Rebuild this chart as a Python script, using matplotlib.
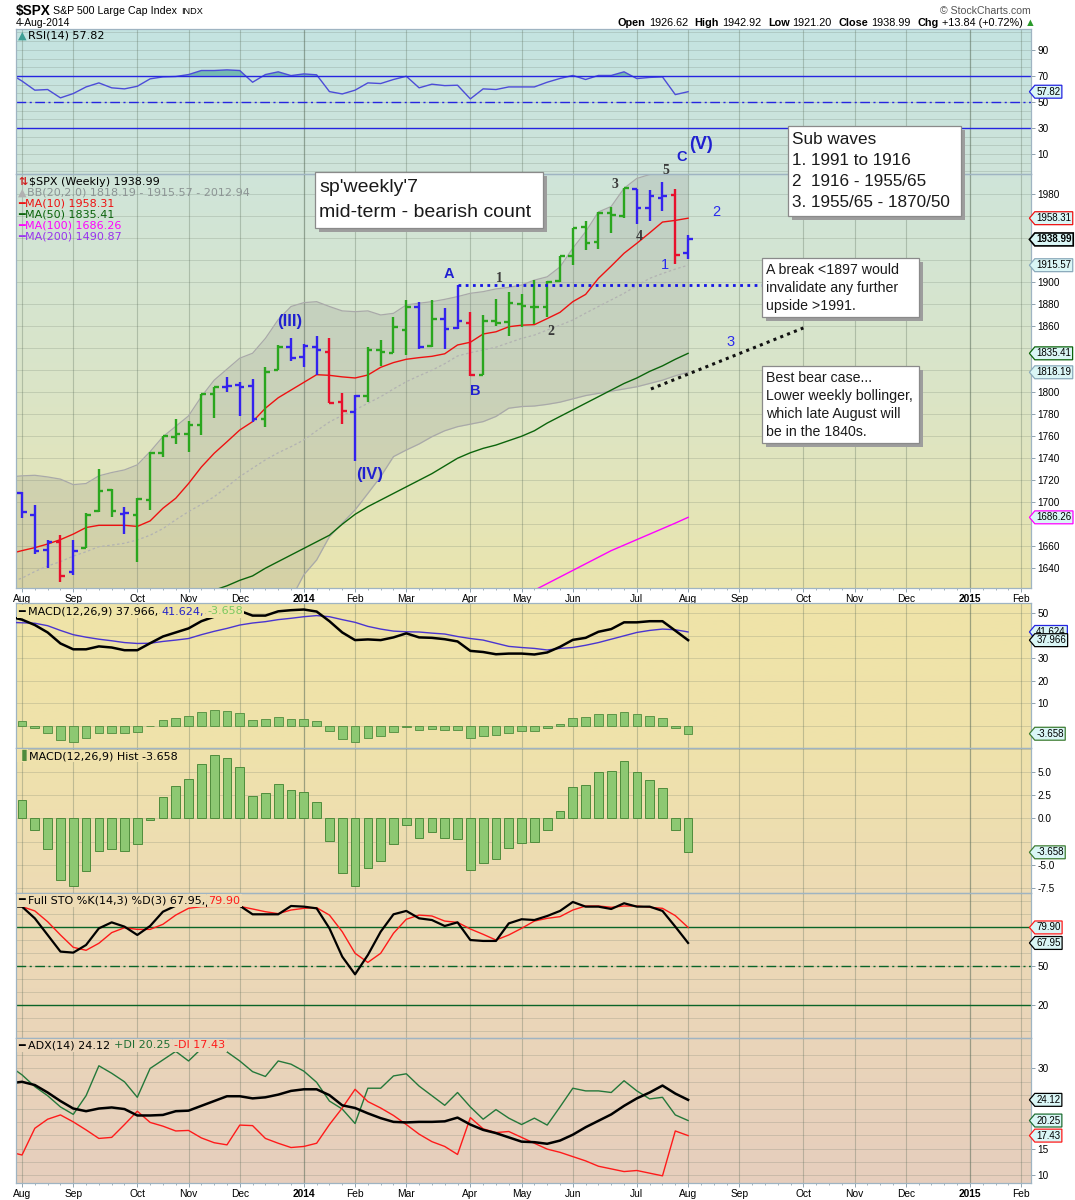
import numpy as np
import matplotlib
matplotlib.use("Agg")
import matplotlib.pyplot as plt
from matplotlib.colors import LinearSegmentedColormap
from matplotlib.patches import Rectangle
from matplotlib.path import Path

# weekly bars, index 0 = week of 5-Aug-2013, index 52 = week of 4-Aug-2014
weeks = np.arange(0, 53)
# indicator lines carry one extra point on the left so they reach the frame
weeks_ext = np.arange(-1, 53)

bar_open = np.array([1708, 1688.5, 1656.6, 1664, 1637, 1658, 1691.7, 1711.4, 1689, 1688,
                     1702, 1745, 1759, 1762, 1770, 1798, 1804.8, 1806.5, 1806, 1776,
                     1820, 1841, 1832, 1841, 1837, 1791, 1782, 1797, 1838, 1836,
                     1857, 1878, 1842, 1867, 1858, 1863, 1816, 1865, 1864, 1880,
                     1878, 1878, 1901, 1923.5, 1950, 1937, 1963, 1960.5, 1984.5, 1968,
                     1977, 1979, 1926.62])
bar_high = np.array([1709, 1697.5, 1665.7, 1670.3, 1665.7, 1690, 1730, 1712, 1696, 1703.6,
                     1745.5, 1759.8, 1775.4, 1774, 1798.5, 1804.8, 1813.6, 1809.6, 1811.8, 1823.3,
                     1843, 1849.4, 1843.6, 1851, 1849, 1799, 1797.5, 1841.5, 1847.5, 1868,
                     1884, 1882.4, 1884, 1876.4, 1897.3, 1873, 1870.3, 1885, 1891.5, 1889.4,
                     1902, 1901.3, 1924, 1949.4, 1955.6, 1963.9, 1968.2, 1985.6, 1984.9, 1984,
                     1991.4, 1984.9, 1942.92])
bar_low = np.array([1685.7, 1653, 1640, 1627.8, 1634, 1658, 1691, 1687, 1671, 1646,
                    1693, 1741.5, 1752.7, 1746, 1761, 1777, 1800.5, 1778.7, 1773.3, 1768,
                    1820, 1828.5, 1823.4, 1815.5, 1790, 1770.9, 1737.9, 1791.5, 1824, 1836,
                    1834, 1839, 1841, 1839.5, 1857.5, 1814.4, 1815.8, 1860, 1851, 1859.5,
                    1862, 1868, 1900.5, 1915.9, 1929.6, 1930, 1944.5, 1958.7, 1952.9, 1955.6,
                    1965.1, 1916.4, 1921.2])
bar_close = np.array([1691.4, 1655.8, 1663.5, 1633, 1655.2, 1688, 1709.9, 1691.8, 1690.5, 1703.2,
                      1744.5, 1759.8, 1761.6, 1770.6, 1798.2, 1804.8, 1805.8, 1805.1, 1775.3, 1818.3,
                      1841.4, 1831.4, 1842.4, 1838.7, 1790.3, 1782.6, 1797, 1838.6, 1836.3, 1859.5,
                      1878, 1841.1, 1866.5, 1857.6, 1865.1, 1815.7, 1864.9, 1863.4, 1881.1, 1878.5,
                      1877.9, 1900.5, 1923.6, 1949.4, 1936.2, 1962.9, 1961, 1985.4, 1967.6, 1978.2,
                      1978.3, 1925.2, 1938.99])
# g = green, b = blue, r = red bar
bar_color = np.array(list("bbbrbgggbg" "ggggggbbbg" "gbbbrrbggg" "gbgbbrgggg" "ggggggggbb" "brb"))

bb_upper = np.array([1723, 1724, 1724.5, 1723, 1721, 1716, 1717, 1724, 1727, 1729.4,
                     1734, 1746, 1759.6, 1769, 1778.5, 1796, 1811, 1821, 1831, 1835.5,
                     1849, 1866, 1878, 1881.5, 1882.4, 1878, 1874, 1873.3, 1874, 1870.3,
                     1871.8, 1879.4, 1881, 1882.4, 1884.5, 1887, 1890, 1891.5, 1894, 1895.4,
                     1897.5, 1902, 1905, 1914, 1931, 1946, 1964, 1969, 1985.5, 1994.5,
                     1998, 2004, 2009, 2012.94])
bb_mid = np.array([1627, 1631, 1637, 1642, 1646, 1651, 1655, 1659.6, 1661, 1662.7,
                   1665.7, 1670, 1676, 1684, 1691.5, 1698, 1705, 1714, 1723.3, 1731,
                   1738.5, 1745, 1750.5, 1756.6, 1765, 1773, 1779, 1784, 1790, 1796,
                   1803, 1809.6, 1815, 1820, 1826, 1833, 1836, 1838.5, 1841, 1845,
                   1849, 1852, 1856.6, 1861, 1865.7, 1872, 1878, 1884, 1890, 1897,
                   1903.6, 1908, 1912, 1915.57])
bb_lower = np.array([1531, 1538, 1549, 1561, 1571, 1586, 1593, 1595, 1595, 1596,
                     1597, 1594, 1592, 1599, 1604.5, 1600, 1599, 1607, 1612, 1615,
                     1610, 1605, 1612, 1634, 1647.5, 1668.7, 1681, 1693, 1708, 1723.3,
                     1741.5, 1747.5, 1753, 1759.6, 1765, 1768.7, 1771, 1773.3, 1778, 1785.5,
                     1787, 1787.5, 1789, 1791, 1794, 1797, 1799, 1801, 1803, 1805,
                     1808, 1811, 1815, 1818.19])
ma10 = np.array([1653, 1656, 1658.7, 1662, 1666, 1671, 1677, 1679, 1679, 1679,
                 1678, 1683, 1694.5, 1703.6, 1717, 1732, 1744.5, 1755, 1765.7, 1773.3,
                 1785.5, 1795, 1802, 1809, 1816, 1815.4, 1814, 1813, 1815.7, 1822.7,
                 1827, 1830, 1831.5, 1832.7, 1835, 1843, 1845.5, 1853, 1855, 1859.6,
                 1861, 1861.5, 1867, 1872.7, 1882.4, 1889, 1903.6, 1914.8, 1926.4, 1935.5,
                 1945, 1954.8, 1956.3, 1958.31])
ma50_weeks = np.arange(15, 53)
ma50 = np.array([1620, 1624, 1629, 1633, 1640, 1646, 1652, 1658, 1664, 1670,
                 1680, 1689, 1696, 1702, 1708, 1714, 1720, 1726, 1733, 1740,
                 1745, 1749, 1752, 1756, 1760, 1765, 1772, 1778, 1784, 1790,
                 1796, 1802, 1808, 1813, 1819, 1824, 1830, 1835.41])
ma100_weeks = np.arange(40, 53)
ma100 = np.array([1620, 1626, 1632, 1638, 1644, 1650, 1656, 1661, 1666, 1671, 1676, 1681, 1686.26])

rsi = np.array([72.0, 66.0, 59.0, 59.5, 53.1, 56.4, 61.5, 64.6, 60.8, 60.0,
                62.0, 67.7, 69.2, 69.5, 71.0, 74.1, 74.1, 74.6, 74.1, 65.1,
                71.0, 73.1, 70.2, 71.5, 70.8, 57.9, 56.1, 59.0, 64.6, 64.1,
                67.2, 69.7, 60.8, 63.6, 62.5, 62.8, 52.3, 60.0, 59.5, 61.5,
                61.5, 61.5, 65.1, 68.0, 70.3, 67.2, 70.3, 70.3, 73.1, 67.9,
                68.8, 69.2, 55.6, 57.82])
macd = np.array([48.5, 47.1, 44.7, 41.4, 36.5, 33.9, 33.9, 35.2, 34.7, 33.5,
                 33.5, 36.6, 39.6, 41.4, 43.2, 46.4, 48.4, 49.6, 51.0, 48.9,
                 48.9, 50.8, 51.3, 51.6, 50.7, 46.4, 41.4, 38.0, 38.3, 38.0,
                 39.2, 41.0, 39.2, 39.0, 38.4, 37.4, 33.2, 32.7, 31.7, 32.0,
                 32.0, 31.6, 32.5, 35.0, 38.1, 39.0, 41.7, 42.9, 45.9, 45.9,
                 46.4, 46.4, 42.2, 37.966])
macd_signal = np.array([45.9, 45.7, 45.5, 44.4, 42.3, 40.4, 39.3, 38.4, 37.7, 36.9,
                        36.5, 36.6, 37.4, 38.0, 38.7, 40.4, 41.9, 43.2, 44.7, 45.6,
                        46.2, 47.1, 47.7, 48.4, 48.9, 48.4, 47.1, 45.9, 44.1, 42.9,
                        42.0, 41.7, 41.6, 41.1, 40.7, 39.6, 38.7, 38.0, 36.6, 35.2,
                        34.7, 34.3, 33.6, 34.3, 34.7, 35.7, 36.9, 38.4, 39.9, 41.4,
                        42.3, 42.9, 42.6, 41.624])
macd_hist = np.array([2.0, -1.3, -3.3, -6.6, -7.3, -5.7, -3.5, -3.3, -3.5, -2.8,
                      -0.15, 2.3, 3.5, 4.3, 5.9, 6.8, 6.5, 5.6, 2.4, 2.7,
                      3.7, 3.1, 2.9, 1.8, -2.4, -5.9, -7.3, -5.4, -4.6, -2.8,
                      -0.7, -2.1, -1.5, -2.1, -2.2, -5.6, -4.8, -4.4, -3.2, -2.6,
                      -2.5, -1.2, 0.8, 3.4, 3.6, 5.0, 5.1, 6.2, 5.0, 4.2,
                      3.3, -1.3, -3.658])
sto_k = np.array([96.0, 95.9, 86.9, 74.1, 61.3, 60.5, 66.4, 79.2, 83.8, 80.5,
                  74.1, 81.0, 92.0, 96.6, 96.6, 96.6, 96.6, 96.6, 96.6, 90.0,
                  90.0, 90.0, 96.4, 95.9, 94.6, 79.2, 57.4, 43.8, 58.7, 76.6,
                  90.0, 92.6, 86.9, 85.6, 81.0, 83.8, 70.2, 69.5, 69.5, 83.0,
                  86.2, 85.6, 88.7, 92.6, 99.5, 95.9, 95.9, 94.1, 98.5, 95.9,
                  95.9, 92.6, 80.5, 67.95])
sto_d = np.array([97.0, 95.9, 92.6, 84.3, 74.1, 64.6, 62.3, 67.7, 75.9, 79.7,
                  78.4, 78.4, 82.3, 89.4, 94.6, 95.9, 96.1, 96.1, 96.1, 94.1,
                  92.0, 90.5, 93.3, 94.6, 95.1, 89.4, 76.6, 60.0, 53.0, 60.0,
                  75.4, 86.2, 89.4, 88.7, 84.8, 83.8, 78.7, 74.6, 70.2, 74.1,
                  79.2, 84.8, 86.9, 88.2, 93.3, 96.4, 96.4, 95.4, 96.4, 96.4,
                  95.4, 94.6, 89.0, 79.90])
adx = np.array([27.2, 27.5, 26.9, 25.5, 23.9, 22.5, 22.0, 22.5, 22.7, 22.4,
                21.2, 21.2, 21.3, 22.0, 22.1, 23.0, 23.9, 24.8, 24.8, 24.4,
                24.6, 25.1, 25.8, 26.1, 26.1, 25.0, 23.1, 22.6, 21.6, 20.7,
                20.0, 19.9, 20.0, 20.0, 20.1, 20.8, 19.5, 18.5, 17.9, 17.1,
                16.3, 16.2, 15.9, 16.5, 17.6, 19.0, 20.2, 21.4, 23.0, 24.4,
                25.5, 26.8, 25.3, 24.12])
plus_di = np.array([30.5, 28.8, 26.6, 24.9, 22.8, 21.4, 24.9, 30.5, 29.1, 27.5,
                    24.6, 30.0, 31.6, 33.2, 31.4, 33.7, 35.0, 33.1, 31.4, 29.4,
                    28.5, 31.4, 30.8, 29.5, 27.4, 23.9, 22.4, 19.7, 26.3, 26.3,
                    28.6, 29.0, 26.7, 24.9, 23.1, 25.5, 22.8, 20.5, 22.3, 20.7,
                    19.5, 20.7, 19.4, 22.8, 26.3, 25.8, 25.8, 25.5, 27.7, 25.8,
                    24.3, 24.6, 21.3, 20.25])
minus_di = np.array([14.4, 13.8, 18.8, 20.5, 21.3, 20.0, 18.5, 16.9, 17.1, 19.5,
                     22.0, 19.9, 19.2, 18.3, 18.4, 17.0, 16.1, 15.7, 19.4, 19.3,
                     16.9, 16.0, 15.2, 15.4, 16.0, 19.5, 22.6, 26.1, 23.8, 22.6,
                     21.2, 19.5, 17.7, 16.3, 15.4, 13.9, 20.8, 18.7, 18.0, 18.2,
                     17.1, 16.0, 14.9, 14.3, 13.5, 12.7, 11.7, 11.2, 10.7, 10.9,
                     10.4, 9.9, 18.3, 17.43])

month_weeks = [0, 4, 9, 13, 17, 22, 26, 30, 35, 39, 43, 48, 52, 56, 61, 65, 69, 74, 78]
month_labels = ["Aug", "Sep", "Oct", "Nov", "Dec", "2014", "Feb", "Mar", "Apr", "May", "Jun",
                "Jul", "Aug", "Sep", "Oct", "Nov", "Dec", "2015", "Feb"]

# hand drawn annotations: (text, week, price, kind)
wave_labels = [("(III)", 20.9, 1864, "major"), ("(IV)", 27.1, 1725, "major"),
               ("A", 33.3, 1907.5, "abc"), ("B", 35.4, 1801.5, "abc"), ("C", 51.5, 2014, "abc"),
               ("(V)", 53.0, 2025.7, "big"),
               ("1", 37.3, 1903.6, "minor"), ("2", 41.3, 1855, "minor"), ("3", 46.3, 1988.5, "minor"),
               ("4", 48.2, 1942, "minor"), ("5", 50.3, 2002, "minor"),
               ("1", 50.2, 1915.7, "sub"), ("2", 54.2, 1964, "sub"), ("3", 55.3, 1846, "sub")]
support_level = 1897.5
support_weeks = [34, 57.8]
bear_line_weeks = [49.1, 61.0]
bear_line_prices = [1803, 1858.5]

# ---------------------------------------------------------------------------
W, H = 1075, 1200
LEFT, RIGHT = 16, 1031
X_MIN, X_MAX = -0.47, 78.77
plt.rcParams["font.family"] = ["DejaVu Sans"]

GRID = (0.40, 0.45, 0.40, 0.22)
SPINE = "#9fb4c2"
BAR_COLORS = {"g": "#2aa61e", "b": "#3322ee", "r": "#e8102c"}
TAG_FILL = "#daf6f6"
SMALL_FONT = "Liberation Sans"

fig = plt.figure(figsize=(W / 100, H / 100), dpi=100)
fig.patch.set_facecolor("white")


def frac_box(top, bottom):
    return [LEFT / W, 1 - bottom / H, (RIGHT - LEFT) / W, (bottom - top) / H]


# background gradient, split around the white date strip
grad_stops = [(29, "#c4e3e1"), (174, "#cfe4d9"), (380, "#dae5c8"), (588, "#eae4ae"),
              (603, "#efe4a8"), (748, "#efe2ab"), (893, "#eddbb4"), (1038, "#ead5b9"),
              (1183, "#e6cebd")]
span = 1183 - 29
bg_cmap = LinearSegmentedColormap.from_list("bg", [((y - 29) / span, c) for y, c in grad_stops])
for top, bottom in [(29, 588), (603, 1183)]:
    bg = fig.add_axes(frac_box(top, bottom), zorder=-10)
    g = np.linspace((top - 29) / span, (bottom - 29) / span, 400).reshape(-1, 1)
    bg.imshow(g, aspect="auto", cmap=bg_cmap, vmin=0, vmax=1, interpolation="bilinear")
    bg.set_axis_off()


def tag_shape(x0, y0, width, height, mutation_size):
    pad = 0.15 * mutation_size
    x0, y0 = x0 - pad, y0 - pad
    x1, y1 = x0 + width + 2 * pad, y0 + height + 2 * pad
    tip = 0.42 * (y1 - y0)
    return Path([(x0, y0), (x1, y0), (x1, y1), (x0, y1), (x0 - tip, 0.5 * (y0 + y1)), (x0, y0)],
                closed=True)


def value_tag(ax, value, text, edge, bold=False):
    ax.text(1.0052, value, text, transform=ax.get_yaxis_transform(), ha="left", va="center",
            fontsize=7.0, family=SMALL_FONT, fontweight="bold" if bold else "normal",
            color="black", zorder=6,
            bbox=dict(boxstyle=tag_shape, fc=TAG_FILL, ec=edge, lw=1.2 if bold else 0.9))


def setup_panel(ax, ylim, grid_vals, label_vals, fmt, dates=False):
    ax.set_facecolor("none")
    ax.set_xlim(X_MIN, X_MAX)
    ax.set_ylim(*ylim)
    for v in grid_vals:
        ax.axhline(v, color=GRID, lw=0.7, zorder=0.5)
    for w, lab in zip(month_weeks, month_labels):
        dark = lab.isdigit()
        ax.axvline(w, color=(0.35, 0.42, 0.35, 0.55 if dark else 0.32), lw=0.9 if dark else 0.8,
                   zorder=0.5)
    ax.yaxis.tick_right()
    ax.set_yticks(label_vals)
    ax.set_yticklabels([fmt.format(v) for v in label_vals], family=SMALL_FONT)
    ax.tick_params(axis="y", labelsize=7.2, length=3, width=0.6, color="#7f94a2", pad=1.5)
    ax.set_xticks(month_weeks)
    ax.set_xticks(np.arange(0, 79), minor=True)
    if dates:
        ax.set_xticklabels(month_labels, family=SMALL_FONT)
        ax.tick_params(axis="x", which="major", labelsize=7.4, length=3, width=0.6,
                       color="#7f94a2", pad=1)
        ax.tick_params(axis="x", which="minor", length=1.5, width=0.5, color="#7f94a2")
        for t in ax.get_xticklabels():
            if t.get_text().isdigit():
                t.set_fontweight("bold")
    else:
        ax.tick_params(axis="x", which="both", length=0, labelbottom=False)
    for sp in ax.spines.values():
        sp.set_color(SPINE)
        sp.set_linewidth(0.9)


ax_rsi = fig.add_axes(frac_box(29, 174))
ax_px = fig.add_axes(frac_box(174, 588))
ax_macd = fig.add_axes(frac_box(603, 748))
ax_hist = fig.add_axes(frac_box(748, 893))
ax_sto = fig.add_axes(frac_box(893, 1038))
ax_adx = fig.add_axes(frac_box(1038, 1183))

# ---- RSI ----
setup_panel(ax_rsi, (-5.4, 106), np.arange(-10, 110, 20 / 3), [10, 30, 50, 70, 90], "{:d}")
ax_rsi.fill_between(weeks_ext, rsi, 70, where=rsi >= 70, interpolate=True,
                    color="#3f9f95", alpha=0.6, lw=0)
ax_rsi.plot(weeks_ext, rsi, color="#4c4cd8", lw=1.0)
for lev, ls in [(70, "-"), (50, (0, (7, 2.5, 1.5, 2.5))), (30, "-")]:
    ax_rsi.axhline(lev, color="#2525e0", lw=1.0, ls=ls)
value_tag(ax_rsi, rsi[-1], "57.82", "#2525e0")

# ---- price ----
setup_panel(ax_px, (1622, 1998.5), np.arange(1640, 1990, 20),
            [1640, 1660, 1700, 1720, 1740, 1760, 1780, 1800, 1860, 1880, 1900, 1980],
            "{:d}", dates=True)
ax_px.fill_between(weeks_ext, bb_lower, bb_upper, color="#858585", alpha=0.2, lw=0)
ax_px.plot(weeks_ext, bb_upper, color="#a9a9a9", lw=0.9)
ax_px.plot(weeks_ext, bb_lower, color="#a9a9a9", lw=0.9)
ax_px.plot(weeks_ext, bb_mid, color="#b2b2b2", lw=0.9, ls=(0, (2, 2)))
ax_px.plot(ma50_weeks, ma50, color="#0b640b", lw=1.0)
ax_px.plot(ma100_weeks, ma100, color="#ff00ff", lw=1.0)
ax_px.plot(weeks_ext, ma10, color="#ee1111", lw=1.0)
for key, col in BAR_COLORS.items():
    m = bar_color == key
    ax_px.vlines(weeks[m], bar_low[m], bar_high[m], color=col, lw=1.7, zorder=4)
    ax_px.hlines(bar_open[m], weeks[m] - 0.36, weeks[m], color=col, lw=1.7, zorder=4)
    ax_px.hlines(bar_close[m], weeks[m], weeks[m] + 0.36, color=col, lw=1.7, zorder=4)
ax_px.plot(support_weeks, [support_level, support_level], color="#1414e6", lw=2.0,
           ls=(0, (1, 1.6)), zorder=4)
ax_px.plot(bear_line_weeks, bear_line_prices, color="#111111", lw=2.2, ls=(0, (1, 1.4)), zorder=4)
label_style = {
    "major": dict(color="#2020d0", fontweight="bold", fontsize=12, family="Liberation Sans"),
    "big": dict(color="#2020d0", fontweight="bold", fontsize=13, family="Liberation Sans"),
    "abc": dict(color="#2020d0", fontweight="bold", fontsize=10.5, family="Liberation Sans"),
    "minor": dict(color="#3a3a3a", fontweight="bold", fontsize=10, family="Liberation Serif"),
    "sub": dict(color="#2a2aee", fontweight="normal", fontsize=10.5, family="Liberation Sans"),
}
for txt, wk, price, kind in wave_labels:
    ax_px.text(wk, price, txt, ha="center", va="center", zorder=5, **label_style[kind])
value_tag(ax_px, ma10[-1], "1958.31", "#ee1111")
value_tag(ax_px, bar_close[-1], "1938.99", "black", bold=True)
value_tag(ax_px, bb_mid[-1], "1915.57", "#8aaabb")
value_tag(ax_px, ma50[-1], "1835.41", "#0b640b")
value_tag(ax_px, bb_lower[-1], "1818.19", "#8aaabb")
value_tag(ax_px, ma100[-1], "1686.26", "#ff00ff")

# ---- MACD ----
setup_panel(ax_macd, (-10, 54.5), np.arange(0, 55, 10), [10, 20, 30, 50], "{:d}")
ax_macd.bar(weeks, macd_hist, width=0.68, color="#8dc872", edgecolor="#4f8c3c", lw=0.6, zorder=2)
ax_macd.plot(weeks_ext, macd_signal, color="#4a35d0", lw=1.0, zorder=3)
ax_macd.plot(weeks_ext, macd, color="black", lw=1.8, zorder=3)
value_tag(ax_macd, macd_signal[-1], "41.624", "#2525e0")
value_tag(ax_macd, macd[-1], "37.966", "black")
value_tag(ax_macd, macd_hist[-1], "-3.658", "#3e7d33")

# ---- MACD histogram ----
setup_panel(ax_hist, (-8.05, 7.6), np.arange(-7.5, 7.6, 2.5), [-7.5, -5, 0, 2.5, 5], "{:.1f}")
ax_hist.bar(weeks, macd_hist, width=0.68, color="#8dc872", edgecolor="#4f8c3c", lw=0.7, zorder=2)
value_tag(ax_hist, macd_hist[-1], "-3.658", "#3e7d33")

# ---- stochastics ----
setup_panel(ax_sto, (-5.2, 106.4), np.arange(0, 101, 10), [20, 50], "{:d}")
for lev, ls in [(80, "-"), (50, (0, (7, 2.5, 1.5, 2.5))), (20, "-")]:
    ax_sto.axhline(lev, color="#0a6428", lw=1.0, ls=ls)
ax_sto.plot(weeks_ext, sto_d, color="#ff1a1a", lw=1.0)
ax_sto.plot(weeks_ext, sto_k, color="black", lw=1.6)
value_tag(ax_sto, sto_d[-1], "79.90", "#ff1a1a")
value_tag(ax_sto, sto_k[-1], "67.95", "black")

# ---- ADX ----
setup_panel(ax_adx, (8.56, 35.7), np.arange(10, 35, 2.5), [10, 15, 30], "{:d}", dates=True)
ax_adx.plot(weeks_ext, plus_di, color="#24783a", lw=1.0)
ax_adx.plot(weeks_ext, minus_di, color="#ff1a1a", lw=1.0)
ax_adx.plot(weeks_ext, adx, color="black", lw=1.8)
value_tag(ax_adx, adx[-1], "24.12", "black")
value_tag(ax_adx, plus_di[-1], "20.25", "#1f6e33")
value_tag(ax_adx, minus_di[-1], "17.43", "#ff1a1a")

# ---- overlay in pixel coordinates for headers, legends and notes ----
ov = fig.add_axes([0, 0, 1, 1], zorder=30)
ov.set_xlim(0, W)
ov.set_ylim(H, 0)
ov.set_axis_off()


def chain(x, y, pieces, size=8.0, bg=None, family="DejaVu Sans"):
    box = dict(fc=bg, ec="none", pad=1.0) if bg else None
    txt, col, wt, _ = pieces[0]
    prev = ov.text(x, y, txt, color=col, fontweight=wt, fontsize=size, va="center", ha="left",
                   bbox=box, family=family)
    for txt, col, wt, gap in pieces[1:]:
        prev = ov.annotate(txt, xy=(1, 0), xycoords=prev, xytext=(gap, 0),
                           textcoords="offset points", va="bottom", ha="left", color=col,
                           fontweight=wt, fontsize=size, bbox=box, family=family)
    return prev


ov.text(16, 11, "$SPX", fontsize=9.8, fontweight="bold", family="Liberation Sans", va="center")
ov.text(53, 11.5, "S&P 500 Large Cap Index", fontsize=7.7, family="Liberation Sans", va="center")
ov.text(181, 11.5, "INDX", fontsize=6.6, family="Liberation Sans", va="center")
ov.text(16, 23.5, "4-Aug-2014", fontsize=7.5, family="Liberation Sans", va="center")
ov.text(1031, 10.5, "\u00a9 StockCharts.com", fontsize=7.6, family="Liberation Sans", va="center",
        ha="right", color="#555555")
chain(618, 23.5, [("Open", "black", "bold", 0), ("1926.62", "black", "normal", 2.2),
                  ("High", "black", "bold", 4.8), ("1942.92", "black", "normal", 2.2),
                  ("Low", "black", "bold", 4.8), ("1921.20", "black", "normal", 2.2),
                  ("Close", "black", "bold", 4.8), ("1938.99", "black", "normal", 2.2),
                  ("Chg", "black", "bold", 4.8), ("+13.84 (+0.72%)", "black", "normal", 2.2),
                  ("\u25b2", "#2a9a2a", "normal", 1.5)], size=7.8, family="Liberation Sans")

chain(18, 36, [("\u25b2", "#3f9f95", "normal", 0), ("RSI(14) 57.82", "black", "normal", 1)])
chain(18, 181.7, [("\u21c5", "#d02020", "bold", 0), ("$SPX (Weekly) 1938.99", "black", "normal", 1)])
chain(18, 192.7, [("\u25b2", "#b0b0b0", "normal", 0),
                  ("BB(20,2.0) 1818.19 - 1915.57 - 2012.94", "#8c9494", "normal", 0.5)])
for k, (txt, col) in enumerate([("MA(10) 1958.31", "#ee1111"), ("MA(50) 1835.41", "#0b640b"),
                                ("MA(100) 1686.26", "#ff00ff"), ("MA(200) 1490.87", "#9933ee")]):
    chain(18, 203.5 + 11.1 * k, [("\u2501", col, "normal", 0), (txt, col, "normal", 0)])
chain(18, 611.5, [("\u2501", "black", "normal", 0), ("MACD(12,26,9) 37.966,", "black", "normal", 2),
                  ("41.624,", "#2525c8", "normal", 2.5), ("-3.658", "#7ac860", "normal", 2.5)],
      bg="#efe4a8")
chain(18, 755.5, [("\u2590", "#4f8c3c", "normal", 0),
                  ("MACD(12,26,9) Hist -3.658", "black", "normal", 1.5)], bg="#efe1ac")
chain(18, 900.5, [("\u2501", "black", "normal", 0),
                  ("Full STO %K(14,3) %D(3) 67.95,", "black", "normal", 2),
                  ("79.90", "#ff1a1a", "normal", 2.5)], bg="#eddbb4")
chain(18, 1045.5, [("\u2501", "black", "normal", 0), ("ADX(14) 24.12", "black", "normal", 2),
                   ("+DI 20.25", "#1f6e33", "normal", 3), ("-DI 17.43", "#ff1a1a", "normal", 3)],
      bg="#ead5b9")


def note(left, top, right, bottom, lines, size, first_y, gap):
    ov.add_patch(Rectangle((left + 4, top + 4), right - left, bottom - top, fc="#9d9d9d",
                           ec="none", zorder=20))
    ov.add_patch(Rectangle((left, top), right - left, bottom - top, fc="white", ec="#8a8a8a",
                           lw=0.9, zorder=21))
    for k, line in enumerate(lines):
        ov.text(left + 4, first_y + gap * k, line, fontsize=size, family="Liberation Sans",
                va="center", ha="left", color="#1a1a1a", zorder=22)


note(315, 172, 543, 228, ["sp'weekly'7", "mid-term - bearish count"], 14, 187.5, 25)
note(788, 126, 961, 216, ["Sub waves", "1. 1991 to 1916", "2  1916 - 1955/65",
                          "3. 1955/65 - 1870/50"], 12.3, 139.5, 21)
note(762, 258, 919, 317, ["A break <1897 would", "invalidate any further", "upside >1991."],
     10.2, 270, 18)
note(762, 366, 919, 443, ["Best bear case...", "Lower weekly bollinger,",
                          "which late August will", "be in the 1840s."], 10.2, 378.5, 17.7)

fig.savefig("out.png", dpi=100)
